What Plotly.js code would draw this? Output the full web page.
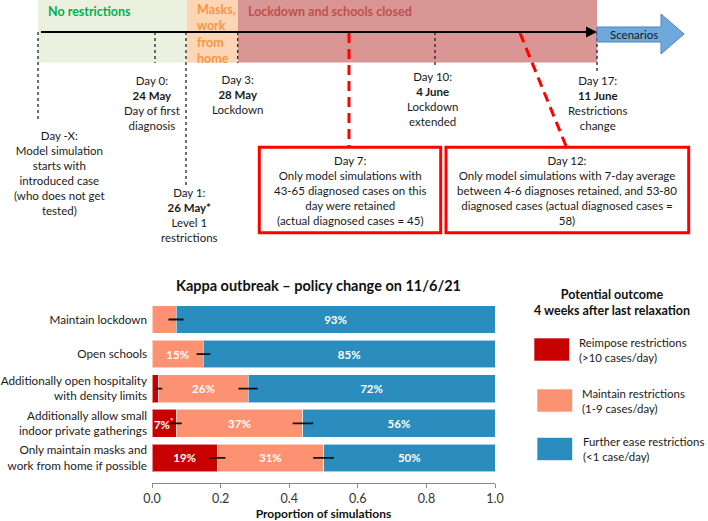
<!DOCTYPE html>
<html><head><meta charset="utf-8">
<script src="https://cdn.plot.ly/plotly-3.0.1.min.js"></script>
<style>html,body{margin:0;padding:0;background:#fff}</style>
</head><body>
<div id="chart" style="width:708px;height:521px"></div>
<script>
// ---------- Bar chart data ----------
const policies = [
  'Maintain lockdown',
  'Open schools',
  'Additionally open hospitality<br>with density limits',
  'Additionally allow small<br>indoor private gatherings',
  'Only maintain masks and<br>work from home if possible'
];
const reimpose = [0.00, 0.00, 0.02, 0.07, 0.19];
const maintain = [0.07, 0.15, 0.26, 0.37, 0.31];
const furtherEase = [0.93, 0.85, 0.72, 0.56, 0.50];
const reimposeErr = [0, 0, 0.010, 0.017, 0.024];
const maintainErr = [0.022, 0.020, 0.028, 0.030, 0.030];
const reimposeText = ['', '', '', '7%<sup>*</sup>', '19%'];
const maintainText = ['', '15%', '26%', '37%', '31%'];
const easeText = ['93%', '85%', '72%', '56%', '50%'];
const xTicks = [0, 0.2, 0.4, 0.6, 0.8, 1.0];

const seriesNames = ['Reimpose restrictions<br>(>10 cases/day)', 'Maintain restrictions<br>(1-9 cases/day)', 'Further ease restrictions<br>(<1 case/day)'];
const seriesColors = ['#c80000', '#fc9272', '#2b8cbe'];

// ---------- Timeline diagram content ----------
const phaseNames = ['<b>No restrictions</b>', '<b>Masks,<br>work<br>from<br>home</b>', '<b>Lockdown and schools closed</b>'];
const phaseStart = [38, 187, 238];
const phaseEnd = [187, 238, 597];
const phaseFill = ['#ebf1de', '#fcd5b4', '#d99694'];
const phaseTextColor = ['#00b050', '#f79646', '#c0504d'];
const phaseTextY = [12, 34.5, 12];

const eventX = [38, 155, 186, 237.7, 435, 597];
const eventLineEnd = [122, 63, 186, 63, 68, 72];
const eventTextX = [59, 152, 189, 237, 432, 597];
const eventTextY = [172.5, 103.5, 214.7, 94, 98.7, 102.7];
const eventText = [
  'Day -X:<br>Model simulation<br>starts with<br>introduced case<br>(who does not get<br>tested)',
  'Day 0:<br><b>24 May</b><br>Day of first<br>diagnosis',
  'Day 1:<br><b>26 May*</b><br>Level 1<br>restrictions',
  'Day 3:<br><b>28 May</b><br>Lockdown',
  'Day 10:<br><b>4 June</b><br>Lockdown<br>extended',
  'Day 17:<br><b>11 June</b><br>Restrictions<br>change'
];
const checkStartX = [349, 520];
const checkEndX = [349, 566];
const boxX0 = [259.3, 446];
const boxX1 = [440.7, 688.7];
const boxText = [
  'Day 7:<br>Only model simulations with<br>43-65 diagnosed cases on this<br>day were retained<br>(actual diagnosed cases = 45)',
  'Day 12:<br>Only model simulations with 7-day average<br>between 4-6 diagnoses retained, and 53-80<br>diagnosed cases (actual diagnosed cases =<br>58)'
];

const W = 708, H = 521;
const PX = x => x / W;
const PY = y => 1 - y / H;
const FONT = 'Lato, "Open Sans", sans-serif';

// ---------- Traces ----------
const traces = [];
const vals = [reimpose, maintain, furtherEase];
const texts = [reimposeText, maintainText, easeText];
for (let s = 0; s < 3; s++) {
  traces.push({
    type: 'bar', orientation: 'h', y: policies, x: vals[s],
    text: texts[s].map(t => t ? '<b>' + t + '</b>' : ' '),
    textposition: 'inside', insidetextanchor: 'middle', constraintext: 'none', textangle: 0,
    textfont: {color: '#ffffff', size: 11.5, family: FONT},
    marker: {color: seriesColors[s], line: {color: 'rgba(255,255,255,0.55)', width: 1}},
    name: seriesNames[s], showlegend: false, hoverinfo: 'x+y'
  });
}
// error bars at the end of the reimpose and maintain segments
const cumMaintain = reimpose.map((r, i) => r + maintain[i]);
const errSets = [
  {x: reimpose, e: reimposeErr},
  {x: cumMaintain, e: maintainErr}
];
errSets.forEach(es => {
  const xs = [], ys = [], es2 = [];
  es.e.forEach((e, i) => { if (e > 0) { xs.push(es.x[i]); ys.push(policies[i]); es2.push(e); } });
  traces.push({
    type: 'scatter', mode: 'markers', x: xs, y: ys,
    marker: {size: 1, opacity: 0},
    error_x: {type: 'data', array: es2, symmetric: true, color: '#111', thickness: 1.8, width: 0},
    showlegend: false, hoverinfo: 'skip'
  });
});

// ---------- Shapes & annotations ----------
const shapes = [];
const annotations = [];

// phases
for (let i = 0; i < phaseNames.length; i++) {
  shapes.push({type: 'rect', xref: 'paper', yref: 'paper', layer: 'below',
    x0: PX(phaseStart[i]), x1: PX(phaseEnd[i]), y0: PY(0), y1: PY(62.5),
    fillcolor: phaseFill[i], line: {width: 0}});
  annotations.push({xref: 'paper', yref: 'paper', x: PX(phaseStart[i] + 8), y: PY(phaseTextY[i]),
    xanchor: 'left', yanchor: 'middle', align: 'left', showarrow: false,
    text: phaseNames[i], font: {family: FONT, size: 12.5, color: phaseTextColor[i]}});
}
// event dashed lines + labels
for (let i = 0; i < eventX.length; i++) {
  shapes.push({type: 'line', xref: 'paper', yref: 'paper',
    x0: PX(eventX[i]), x1: PX(eventX[i]), y0: PY(32), y1: PY(eventLineEnd[i]),
    line: {color: '#222', width: 1.3, dash: '3px,3px'}});
  annotations.push({xref: 'paper', yref: 'paper', x: PX(eventTextX[i]), y: PY(eventTextY[i]),
    xanchor: 'center', yanchor: 'middle', align: 'center', showarrow: false,
    text: eventText[i], font: {family: FONT, size: 11.5, color: '#1a1a1a'}});
}
// main timeline arrow
annotations.push({xref: 'paper', yref: 'paper', x: PX(597), y: PY(32), ax: 38 - 597, ay: 0,
  axref: 'pixel', ayref: 'pixel', showarrow: true, arrowhead: 2, arrowsize: 1, arrowwidth: 2.2,
  arrowcolor: '#000', text: ' '});
// Scenarios block arrow
const arrowPts = [[597, 27], [661, 27], [661, 14], [684, 34], [661, 54], [661, 42], [597, 42]];
shapes.push({type: 'path', xref: 'paper', yref: 'paper',
  path: 'M' + arrowPts.map(p => PX(p[0]) + ',' + PY(p[1])).join(' L') + ' Z',
  fillcolor: '#6fa8dc', line: {color: '#4f81bd', width: 1}});
annotations.push({xref: 'paper', yref: 'paper', x: PX(634), y: PY(34), showarrow: false,
  xanchor: 'center', yanchor: 'middle', text: 'Scenarios', font: {family: FONT, size: 11.5, color: '#1a1a1a'}});
// red dashed checkpoints and boxes
for (let i = 0; i < checkStartX.length; i++) {
  shapes.push({type: 'line', xref: 'paper', yref: 'paper',
    x0: PX(checkStartX[i]), x1: PX(checkEndX[i]), y0: PY(33), y1: PY(146),
    line: {color: '#ff0000', width: 3, dash: '10px,6px'}});
  shapes.push({type: 'rect', xref: 'paper', yref: 'paper',
    x0: PX(boxX0[i]), x1: PX(boxX1[i]), y0: PY(147.3), y1: PY(232.7),
    fillcolor: '#ffffff', line: {color: '#ff0000', width: 3}});
  annotations.push({xref: 'paper', yref: 'paper', x: PX((boxX0[i] + boxX1[i]) / 2), y: PY(190.4),
    xanchor: 'center', yanchor: 'middle', align: 'center', showarrow: false,
    text: boxText[i], font: {family: FONT, size: 11.5, color: '#1a1a1a'}});
}

// legend
annotations.push({xref: 'paper', yref: 'paper', x: PX(612), y: PY(302), showarrow: false,
  xanchor: 'center', yanchor: 'middle', align: 'center',
  text: '<b>Potential outcome<br>4 weeks after last relaxation</b>', font: {family: FONT, size: 12.5, color: '#111'}});
const legSwX = [534, 537, 537];
const legY = [349.5, 400.5, 449];
const legTextX = [579, 582, 583];
for (let s = 0; s < 3; s++) {
  shapes.push({type: 'rect', xref: 'paper', yref: 'paper',
    x0: PX(legSwX[s]), x1: PX(legSwX[s] + 35.5), y0: PY(legY[s] - 11.5), y1: PY(legY[s] + 11.5),
    fillcolor: seriesColors[s], line: {color: 'rgba(255,255,255,0.6)', width: 1}});
  annotations.push({xref: 'paper', yref: 'paper', x: PX(legTextX[s] - 2), y: PY(legY[s]), showarrow: false,
    xanchor: 'left', yanchor: 'middle', align: 'left', text: seriesNames[s],
    font: {family: FONT, size: 11.4, color: '#1a1a1a'}});
}

const layout = {
  width: W, height: H,
  margin: {l: 0, r: 0, t: 0, b: 0},
  paper_bgcolor: '#ffffff', plot_bgcolor: 'rgba(0,0,0,0)',
  font: {family: FONT, size: 12, color: '#1a1a1a'},
  title: {text: '<b>Kappa outbreak – policy change on 11/6/21</b>', x: PX(318.5), y: PY(286),
    xanchor: 'center', yanchor: 'middle', xref: 'paper', font: {family: FONT, size: 14.5, color: '#111'}},
  barmode: 'stack', bargap: 0.2,
  showlegend: false,
  xaxis: {domain: [PX(152), PX(495)], range: [0, 1], anchor: 'y',
    showline: true, linecolor: '#888', linewidth: 1, ticks: 'outside', ticklen: 4, tickcolor: '#888',
    tickvals: xTicks, tickformat: '.1f', showgrid: false, zeroline: false,
    tickfont: {family: FONT, size: 12.5, color: '#333'},
    title: {text: '<b>Proportion of simulations</b>', font: {family: FONT, size: 12, color: '#111'}, standoff: 6}},
  yaxis: {domain: [PY(482.7), PY(302.2)], type: 'category', categoryarray: policies, categoryorder: 'array',
    range: [4.717, -0.5], showline: false, ticks: '', showgrid: false, zeroline: false,
    ticklabelstandoff: 4,
    tickfont: {family: FONT, size: 11.7, color: '#1a1a1a'}},
  shapes: shapes,
  annotations: annotations
};

Plotly.newPlot('chart', traces, layout, {displayModeBar: false, staticPlot: true});
</script>
</body></html>
